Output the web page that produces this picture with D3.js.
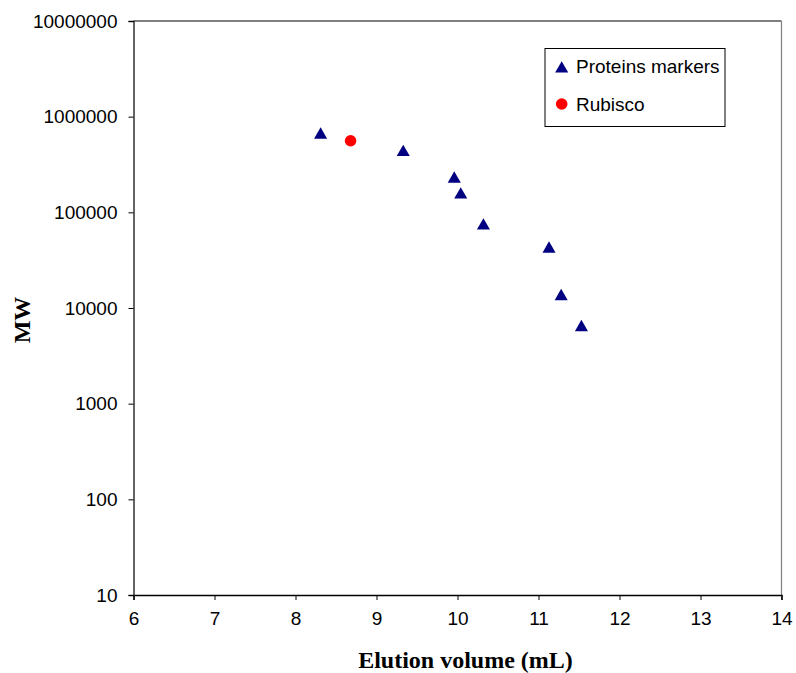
<!DOCTYPE html>
<html>
<head>
<meta charset="utf-8">
<script src="https://cdn.jsdelivr.net/npm/d3@7"></script>
<style>
  html, body { margin: 0; padding: 0; background: #fff; }
  svg { display: block; }
</style>
</head>
<body>
<svg id="chart" width="796" height="673"></svg>
<script>
// Calibration markers: elution volume (mL) vs molecular weight
const markerVolume = [8.31, 9.33, 9.96, 10.04, 10.32, 11.13, 11.28, 11.53];
const markerMW     = [669000, 440000, 232000, 158000, 75000, 43000, 13700, 6500];

// Rubisco sample
const rubiscoVolume = [8.68];
const rubiscoMW     = [560000];

const xTicks = [6, 7, 8, 9, 10, 11, 12, 13, 14];
const yTicks = [10, 100, 1000, 10000, 100000, 1000000, 10000000];

const seriesNames = ["Proteins markers", "Rubisco"];
const seriesColors = ["#000080", "#ff0000"];

const svg = d3.select("#chart");
const m = { left: 133.5, top: 21, right: 781.5, bottom: 595 };

const x = d3.scaleLinear().domain([6, 14]).range([m.left, m.right]);
const y = d3.scaleLog().domain([10, 10000000]).range([m.bottom, m.top]);

// plot frame (top and right edges)
svg.append("line")
  .attr("x1", m.left).attr("x2", m.right)
  .attr("y1", m.top).attr("y2", m.top)
  .attr("stroke", "#000").attr("stroke-width", 1.2);
svg.append("line")
  .attr("x1", m.right).attr("x2", m.right)
  .attr("y1", m.top).attr("y2", m.bottom)
  .attr("stroke", "#808080").attr("stroke-width", 1.2);

// x axis
const xAxis = svg.append("g")
  .attr("transform", `translate(0,${m.bottom})`)
  .call(d3.axisBottom(x).tickValues(xTicks).tickFormat(d3.format("d")).tickSize(5).tickPadding(12));
xAxis.select(".domain").attr("stroke", "#000").attr("stroke-width", 1.4);
xAxis.selectAll(".tick line").attr("stroke", "#000");
xAxis.selectAll("text")
  .attr("font-family", "Liberation Sans, Arial, sans-serif")
  .attr("font-size", 19).attr("fill", "#000");

// y axis
const yAxis = svg.append("g")
  .attr("transform", `translate(${m.left},0)`)
  .call(d3.axisLeft(y).tickValues(yTicks).tickFormat(d3.format("d")).tickSize(5).tickPadding(11));
yAxis.select(".domain").attr("stroke", "#222").attr("stroke-width", 1.4);
yAxis.selectAll(".tick line").attr("stroke", "#000");
yAxis.selectAll("text")
  .attr("font-family", "Liberation Sans, Arial, sans-serif")
  .attr("font-size", 19).attr("fill", "#000");

// axis titles
svg.append("text")
  .attr("x", (m.left + m.right) / 2 + 8).attr("y", 668)
  .attr("text-anchor", "middle")
  .attr("font-family", "Liberation Serif, Times New Roman, serif")
  .attr("font-weight", "bold").attr("font-size", 24)
  .text("Elution volume (mL)");
svg.append("text")
  .attr("transform", `translate(30,${(m.top + m.bottom) / 2 + 12}) rotate(-90)`)
  .attr("text-anchor", "middle")
  .attr("font-family", "Liberation Serif, Times New Roman, serif")
  .attr("font-weight", "bold").attr("font-size", 24)
  .text("MW");

const tri = d3.symbol().type(d3.symbolTriangle).size(74);

// protein marker points
svg.append("g").selectAll("path")
  .data(markerVolume.map((v, i) => [v, markerMW[i]]))
  .join("path")
  .attr("d", tri)
  .attr("transform", d => `translate(${x(d[0])},${y(d[1]) + 1.5})`)
  .attr("fill", seriesColors[0]);

// rubisco point
svg.append("g").selectAll("circle")
  .data(rubiscoVolume.map((v, i) => [v, rubiscoMW[i]]))
  .join("circle")
  .attr("cx", d => x(d[0])).attr("cy", d => y(d[1]))
  .attr("r", 5.8)
  .attr("fill", seriesColors[1]);

// legend
const lg = svg.append("g");
lg.append("rect")
  .attr("x", 545).attr("y", 48.5).attr("width", 180).attr("height", 78)
  .attr("fill", "#fff").attr("stroke", "#000").attr("stroke-width", 1);
lg.append("path").attr("d", tri)
  .attr("transform", "translate(561.7,68.8)").attr("fill", seriesColors[0]);
lg.append("circle").attr("cx", 561.7).attr("cy", 104).attr("r", 5.8).attr("fill", seriesColors[1]);
lg.selectAll("text.lbl")
  .data(seriesNames)
  .join("text")
  .attr("class", "lbl")
  .attr("x", 576)
  .attr("y", (d, i) => i === 0 ? 73 : 111)
  .attr("font-family", "Liberation Sans, Arial, sans-serif")
  .attr("font-size", 19).attr("fill", "#000")
  .text(d => d);
</script>
</body>
</html>
